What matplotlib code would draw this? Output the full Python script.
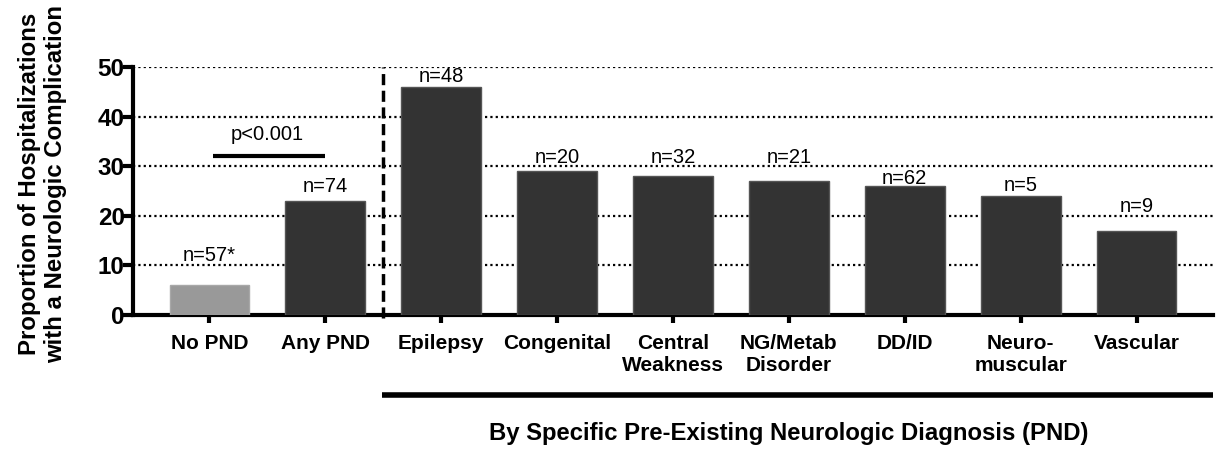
import numpy as np
import matplotlib.pyplot as plt

plt.rcParams['font.family'] = ['Liberation Sans', 'DejaVu Sans']

categories = ['No PND', 'Any PND', 'Epilepsy', 'Congenital', 'Central\nWeakness',
              'NG/Metab\nDisorder', 'DD/ID', 'Neuro-\nmuscular', 'Vascular']
values = [6, 23, 46, 29, 28, 27, 26, 24, 17]
n_labels = ['n=57*', 'n=74', 'n=48', 'n=20', 'n=32', 'n=21', 'n=62', 'n=5', 'n=9']
n_label_y = [11.9, 26.0, 48.0, 31.7, 31.7, 31.7, 27.6, 26.2, 21.8]
bar_colors = ['#999999'] + ['#333333'] * 8
edge_colors = ['#a8a8a8'] + ['#555555'] * 8

fig = plt.figure(figsize=(12.17, 4.51), dpi=100)
ax = fig.add_axes([0.1093, 0.3016, 0.8874, 0.5498])

x = np.arange(len(categories))
ax.bar(x, values, width=0.69, color=bar_colors, edgecolor=edge_colors,
       linewidth=1.0, zorder=3)

for xi, lab, ly in zip(x, n_labels, n_label_y):
    ax.text(xi, ly, lab, ha='center', va='center', fontsize=14.5, zorder=4)

# gridlines
for gy in [10, 20, 30, 40, 50]:
    ax.axhline(gy, color='black', lw=1.6, ls=(0, (1, 1.4)), zorder=1)

# significance bar
ax.plot([0.03, 1.0], [32.1, 32.1], color='black', lw=3, solid_capstyle='butt', zorder=4)
ax.text(0.5, 36.3, 'p<0.001', ha='center', va='center', fontsize=14.5)

# dashed separator
ax.plot([1.5, 1.5], [-0.6, 50], color='black', lw=2.5, ls=(0, (3.2, 1.6)),
        clip_on=False, zorder=4)

ax.set_xlim(-0.66, 8.66)
ax.set_ylim(0, 50)
ax.set_yticks([0, 10, 20, 30, 40, 50])
ax.set_xticks(x)
ax.set_xticklabels(categories, fontsize=15, fontweight='bold')
for lab in ax.get_yticklabels():
    lab.set_fontsize(17.5)
    lab.set_fontweight('bold')

for side in ['top', 'right']:
    ax.spines[side].set_visible(False)
for side in ['left', 'bottom']:
    ax.spines[side].set_linewidth(3)
ax.tick_params(axis='x', length=6, width=3, pad=8)
ax.tick_params(axis='y', length=7, width=3, pad=-1)

ax.set_ylabel('Proportion of Hospitalizations\nwith a Neurologic Complication',
              fontsize=17.3, fontweight='bold', linespacing=1.15)
ax.yaxis.set_label_coords(-0.061, 0.53)

# group line and label
tr = ax.get_xaxis_transform()
ax.plot([1.49, 8.66], [-0.3226, -0.3226], color='black', lw=4, transform=tr,
        clip_on=False, solid_capstyle='butt')
ax.text(5.0, -0.476, 'By Specific Pre-Existing Neurologic Diagnosis (PND)',
        transform=tr, ha='center', va='center', fontsize=17.2, fontweight='bold')

fig.savefig('out.png', dpi=100)
